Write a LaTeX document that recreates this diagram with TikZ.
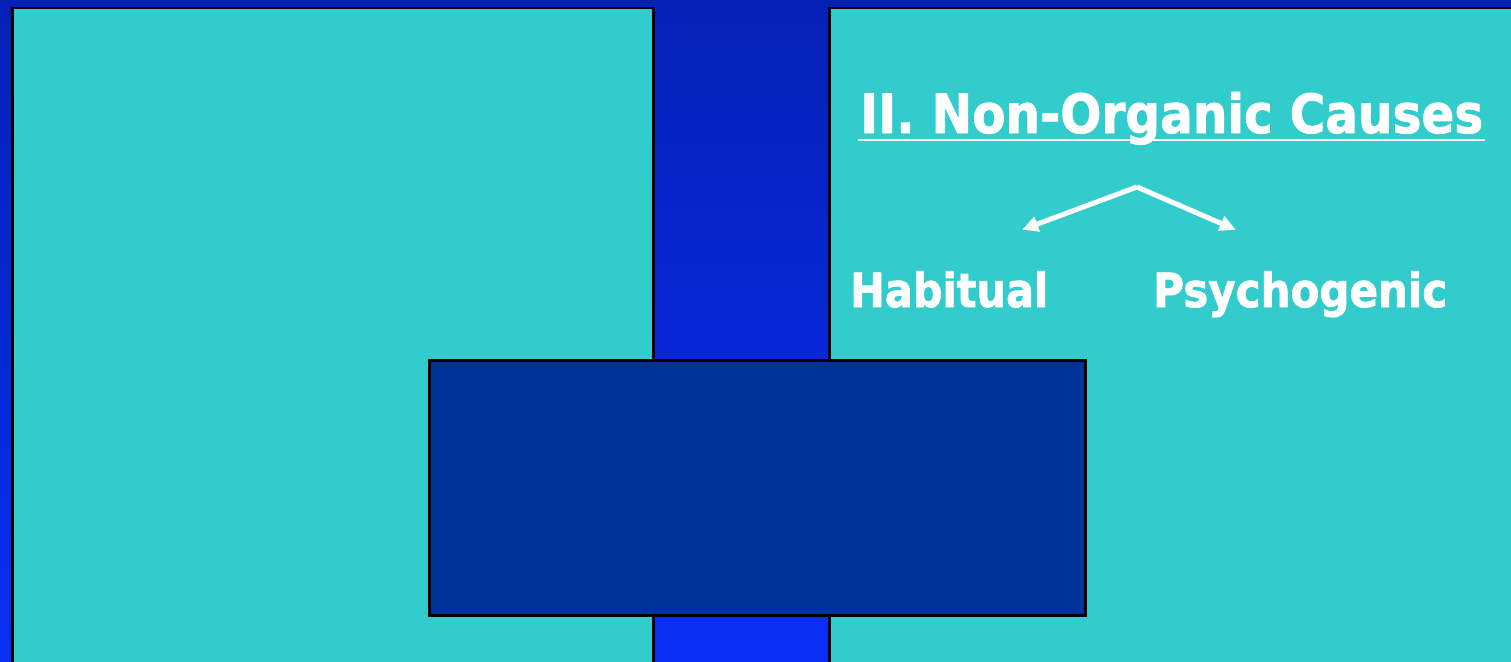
\documentclass[tikz,border=0pt]{standalone}
\usepackage{fontspec}
\setmainfont{DejaVu Sans}
\newfontfamily\heavyfont[FakeBold=1.6]{DejaVu Sans Bold}
\usetikzlibrary{arrows.meta}
\definecolor{bgtop}{HTML}{0520B5}
\definecolor{bgbot}{HTML}{0A2EF5}
\definecolor{panel}{HTML}{33CCCC}
\definecolor{darkbox}{HTML}{003399}
\tikzset{
  panelbox/.style={fill=panel, draw=black, line width=2.5pt},
  centerbox/.style={fill=darkbox, draw=black, line width=2.5pt},
  wtext/.style={text=white, font=\heavyfont, inner sep=0pt, anchor=base west},
  branch/.style={white, line width=5pt, -{Triangle[length=16pt,width=15pt]}, shorten >=-2pt}
}
\begin{document}
\begin{tikzpicture}[x=1pt,y=-1pt]
\useasboundingbox (0,0) rectangle (1511,661);
\clip (0,0) rectangle (1511,661);
\shade[top color=bgtop, bottom color=bgbot] (0,0) rectangle (1511,661);
\node[panelbox, minimum width=641pt, minimum height=670pt, anchor=north west, inner sep=0pt] (left) at (11,7) {};
\node[panelbox, minimum width=700pt, minimum height=670pt, anchor=north west, inner sep=0pt] (right) at (828,7) {};
\node[centerbox, minimum width=656pt, minimum height=255pt, anchor=north west, inner sep=0pt] (mid) at (428,359) {};
\node[wtext] (title) at (860,133) {\fontsize{54}{60}\selectfont\resizebox{623pt}{\height}{II. Non-Organic Causes}};
\draw[white, line width=2.5pt] ([xshift=-2pt,yshift=-7pt]title.base west) -- ([xshift=2pt,yshift=-7pt]title.base east);
\node[wtext] (hab) at (850,307) {\fontsize{47}{54}\selectfont\resizebox{198pt}{\height}{Habitual}};
\node[wtext] (psy) at (1153,307) {\fontsize{47}{54}\selectfont\resizebox{294pt}{\height}{Psychogenic}};
\coordinate (apex) at (1137,187);
\coordinate (habtip) at (1024,229);
\coordinate (psytip) at (1234,229);
\draw[branch] (apex) -- (habtip);
\draw[branch] (apex) -- (psytip);
\end{tikzpicture}
\end{document}
